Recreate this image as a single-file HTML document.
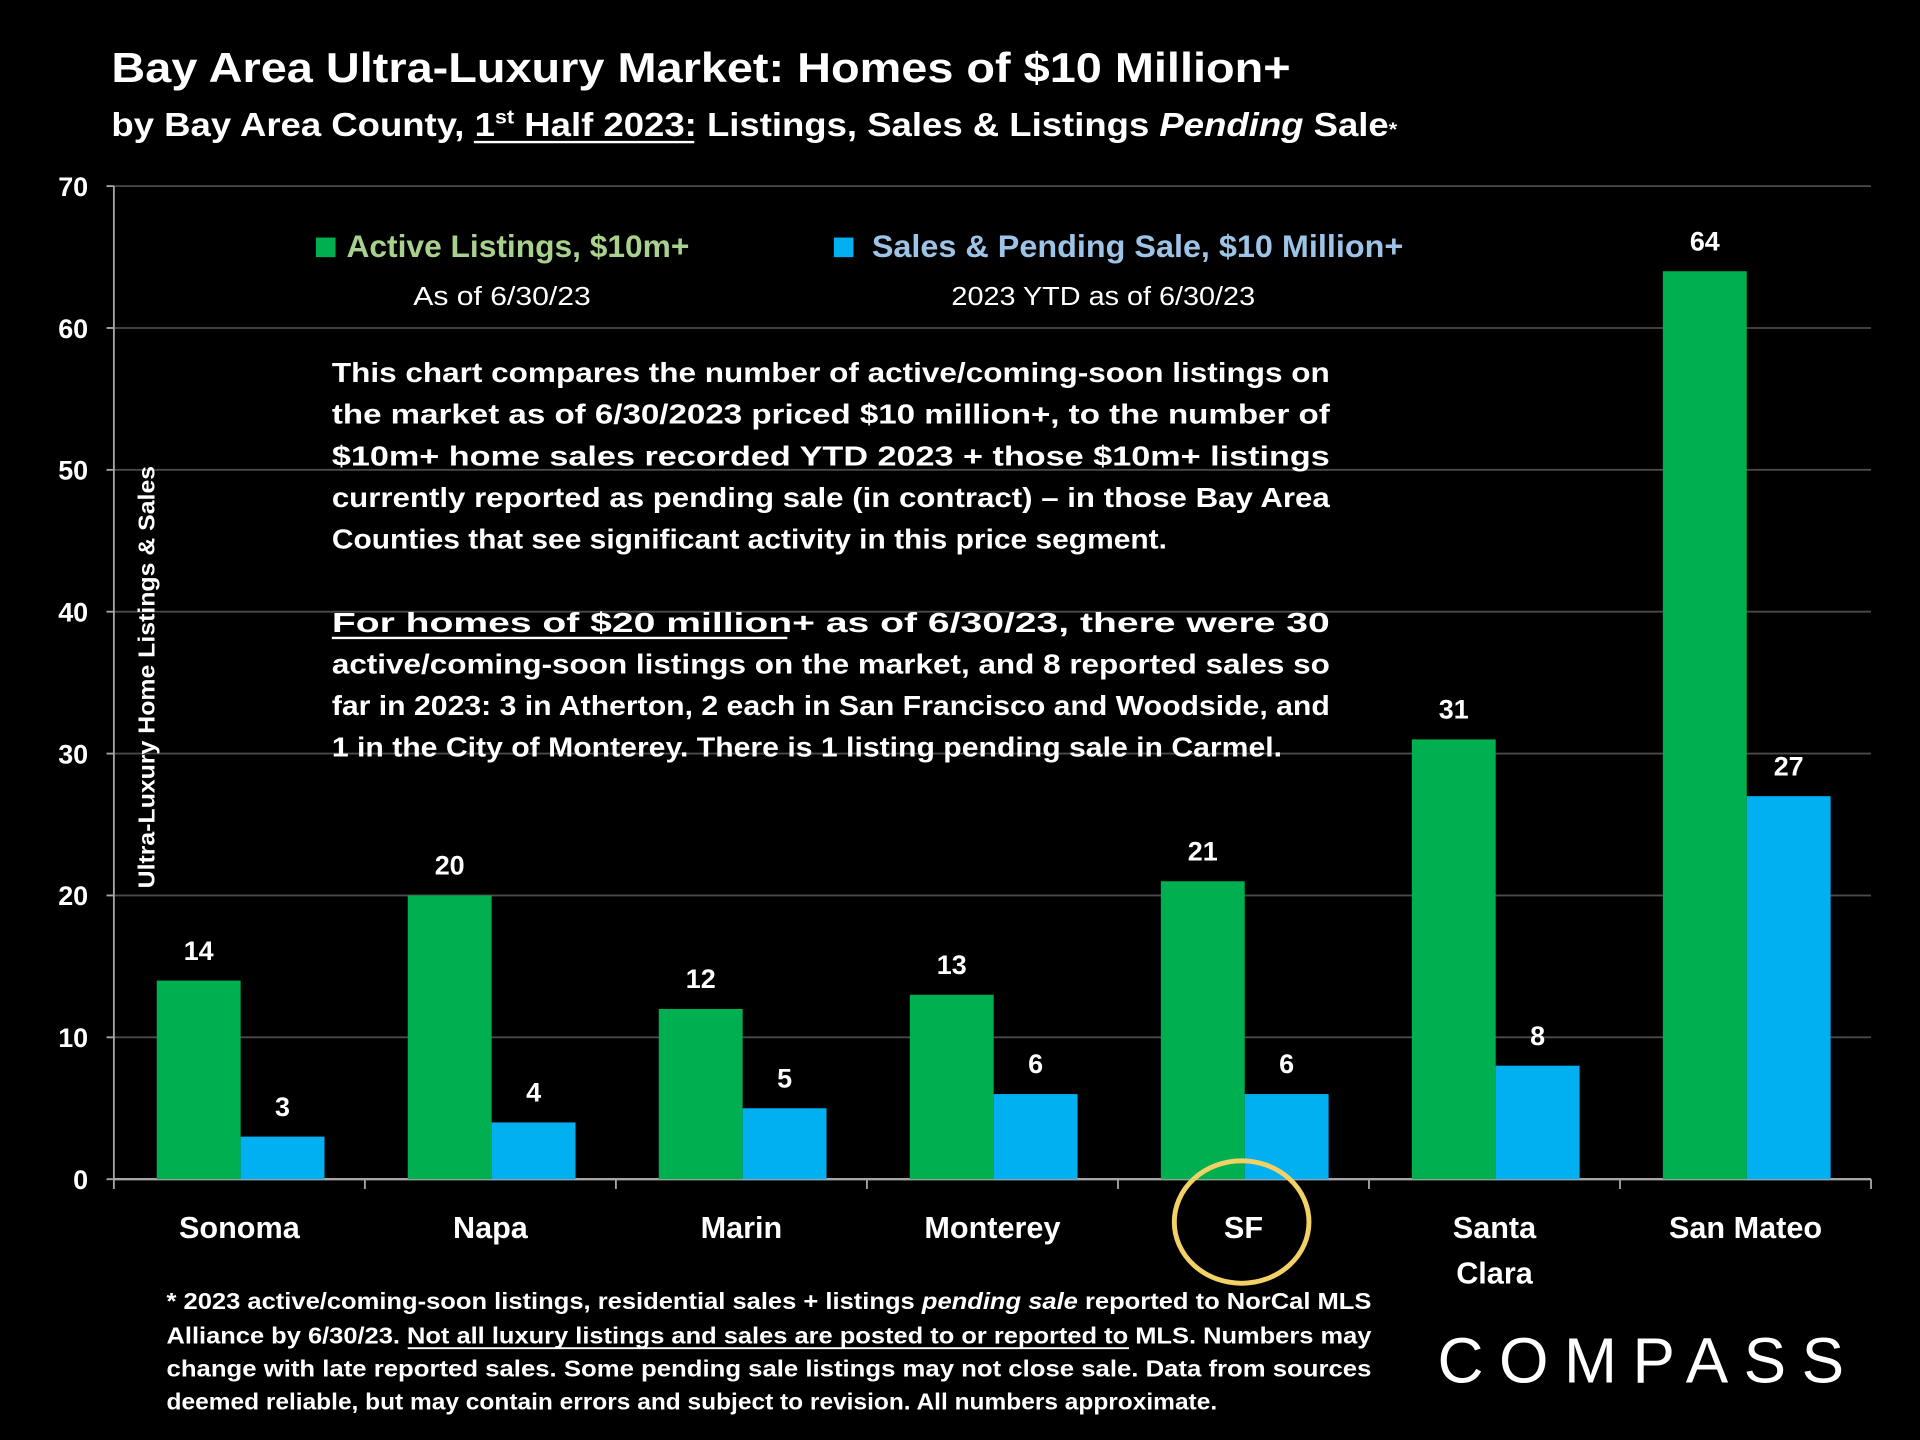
<!DOCTYPE html>
<html><head><meta charset="utf-8"><style>
html,body{margin:0;padding:0;background:#000;}
svg{display:block;}
text{font-family:"Liberation Sans",sans-serif;font-weight:bold;fill:#fff;}
</style></head><body>
<svg id="chart" width="1920" height="1440" viewBox="0 0 1568 1176" xmlns="http://www.w3.org/2000/svg">
<rect width="1568" height="1176" fill="#000"/>
<text x="91" y="67" font-size="34" textLength="963" lengthAdjust="spacingAndGlyphs">Bay Area Ultra-Luxury Market: Homes of $10 Million+</text>
<text x="91" y="111" font-size="27" textLength="1050" lengthAdjust="spacingAndGlyphs">by Bay Area County, 1<tspan font-size="16" dy="-10">st</tspan><tspan dy="10"> Half 2023:  Listings, Sales &amp; Listings </tspan><tspan font-style="italic">Pending</tspan> Sale<tspan font-size="16">*</tspan></text>
<line x1="387" y1="116" x2="567" y2="116" stroke="#fff" stroke-width="2"/>
<g id="grid"></g>
<g id="bars"></g>
<text transform="translate(126,553) rotate(-90)" text-anchor="middle" font-size="19" textLength="345" lengthAdjust="spacingAndGlyphs">Ultra-Luxury Home Listings &amp; Sales</text>
<g>
<rect x="258" y="194" width="16" height="16" fill="#00b050"/>
<text x="283" y="210" font-size="26" style="fill:#a9d18e" textLength="280" lengthAdjust="spacingAndGlyphs">Active Listings, $10m+</text>
<text x="410" y="249" font-size="21" style="font-weight:normal" text-anchor="middle" textLength="145" lengthAdjust="spacingAndGlyphs">As of 6/30/23</text>
<rect x="681" y="194" width="16" height="16" fill="#00b0f0"/>
<text x="712" y="210" font-size="26" style="fill:#9dc3e6" textLength="434" lengthAdjust="spacingAndGlyphs">Sales &amp; Pending Sale, $10 Million+</text>
<text x="901" y="249" font-size="21" style="font-weight:normal" text-anchor="middle" textLength="248" lengthAdjust="spacingAndGlyphs">2023 YTD as of 6/30/23</text>
</g>
<g font-size="23">
<text x="271" y="312" textLength="815" lengthAdjust="spacingAndGlyphs">This chart compares the number of active/coming-soon listings on</text>
<text x="271" y="346" textLength="815" lengthAdjust="spacingAndGlyphs">the market as of 6/30/2023 priced $10 million+, to the number of</text>
<text x="271" y="380" textLength="815" lengthAdjust="spacingAndGlyphs">$10m+ home sales recorded YTD 2023 + those $10m+ listings</text>
<text x="271" y="414" textLength="815" lengthAdjust="spacingAndGlyphs">currently reported as pending sale (in contract) – in those Bay Area</text>
<text x="271" y="448" textLength="682" lengthAdjust="spacingAndGlyphs">Counties that see significant activity in this price segment.</text>
<text x="271" y="516" textLength="815" lengthAdjust="spacingAndGlyphs">For homes of $20 million+ as of 6/30/23, there were 30</text>
<line x1="271" y1="521" x2="643" y2="521" stroke="#fff" stroke-width="2"/>
<text x="271" y="550" textLength="815" lengthAdjust="spacingAndGlyphs">active/coming-soon listings on the market, and 8 reported sales so</text>
<text x="271" y="584" textLength="815" lengthAdjust="spacingAndGlyphs">far in 2023: 3 in Atherton, 2 each in San Francisco and Woodside, and</text>
<text x="271" y="618" textLength="776" lengthAdjust="spacingAndGlyphs">1 in the City of Monterey. There is 1 listing pending sale in Carmel.</text>
</g>
<ellipse cx="1014" cy="998" rx="55" ry="50" fill="none" stroke="#f2d266" stroke-width="4"/>
<g font-size="18.5">
<text x="136" y="1069" textLength="984" lengthAdjust="spacingAndGlyphs">* 2023 active/coming-soon listings, residential sales + listings <tspan font-style="italic">pending sale</tspan> reported to NorCal MLS</text>
<text x="136" y="1097" textLength="984" lengthAdjust="spacingAndGlyphs">Alliance by 6/30/23. Not all luxury listings and sales are posted to or reported to MLS. Numbers may</text>
<line x1="333" y1="1101" x2="922" y2="1101" stroke="#fff" stroke-width="1.5"/>
<text x="136" y="1124" textLength="984" lengthAdjust="spacingAndGlyphs">change with late reported sales. Some pending sale listings may not close sale. Data from sources</text>
<text x="136" y="1151" textLength="858" lengthAdjust="spacingAndGlyphs">deemed reliable, but may contain errors and subject to revision. All numbers approximate.</text>
</g>
<text x="1174" y="1129" font-size="52" style="font-weight:normal" textLength="332" lengthAdjust="spacing">COMPASS</text>
<script>
const categories=["Sonoma","Napa","Marin","Monterey","SF","Santa Clara","San Mateo"];
const activeListings=[14,20,12,13,21,31,64];
const salesPending=[3,4,5,6,6,8,27];
const yTicks=[0,10,20,30,40,50,60,70];
const NS="http://www.w3.org/2000/svg";
const X0=93,X1=1528,Y0=963,Y70=152,YMAX=70;
const y=v=>Y0-(v/YMAX)*(Y0-Y70);
const cw=(X1-X0)/categories.length;
const bw=68.5,off=35;
function mk(tag,attrs,parent){const e=document.createElementNS(NS,tag);for(const k in attrs)e.setAttribute(k,attrs[k]);parent.appendChild(e);return e;}
const grid=document.getElementById('grid'),bars=document.getElementById('bars');
yTicks.forEach(t=>{
  const l=mk('line',{x1:X0,x2:X1,y1:y(t),y2:y(t),stroke:t===0?'#a6a6a6':'#4a4a4a','stroke-width':t===0?2:1.5},grid);
  
  
  mk('line',{x1:X0-6,x2:X0,y1:y(t),y2:y(t),stroke:'#a6a6a6','stroke-width':1.5},grid);
  const tx=mk('text',{x:72,y:y(t)+8,'text-anchor':'end','font-size':22},grid);
  tx.textContent=t;
  
  
});
mk('line',{x1:X0,x2:X0,y1:Y70,y2:Y0,stroke:'#a6a6a6','stroke-width':1.5},grid);
for(let i=0;i<=categories.length;i++){mk('line',{x1:X0+i*cw,x2:X0+i*cw,y1:Y0,y2:Y0+8,stroke:'#a6a6a6','stroke-width':1.5},grid);}
categories.forEach((c,i)=>{
  const gx=X0+i*cw+off,bx=gx+bw;
  const g=mk('rect',{x:gx,y:y(activeListings[i]),width:bw,height:Y0-y(activeListings[i]),fill:'#00b050'},bars);
  
  
  const b=mk('rect',{x:bx,y:y(salesPending[i]),width:bw,height:Y0-y(salesPending[i]),fill:'#00b0f0'},bars);
  
  
  const la=mk('text',{x:gx+bw/2,y:y(activeListings[i])-17,'text-anchor':'middle','font-size':22},bars);
  la.textContent=activeListings[i];
  
  
  const lb=mk('text',{x:bx+bw/2,y:y(salesPending[i])-17,'text-anchor':'middle','font-size':22},bars);
  lb.textContent=salesPending[i];
  
  
  const parts=c==="Santa Clara"?["Santa","Clara"]:[c];
  parts.forEach((p,j)=>{
    const t=mk('text',{x:X0+i*cw+cw/2,y:1011+j*37,'text-anchor':'middle','font-size':25},bars);
    t.textContent=p;
    
    
  });
});
</script>
</svg>
</body></html>
